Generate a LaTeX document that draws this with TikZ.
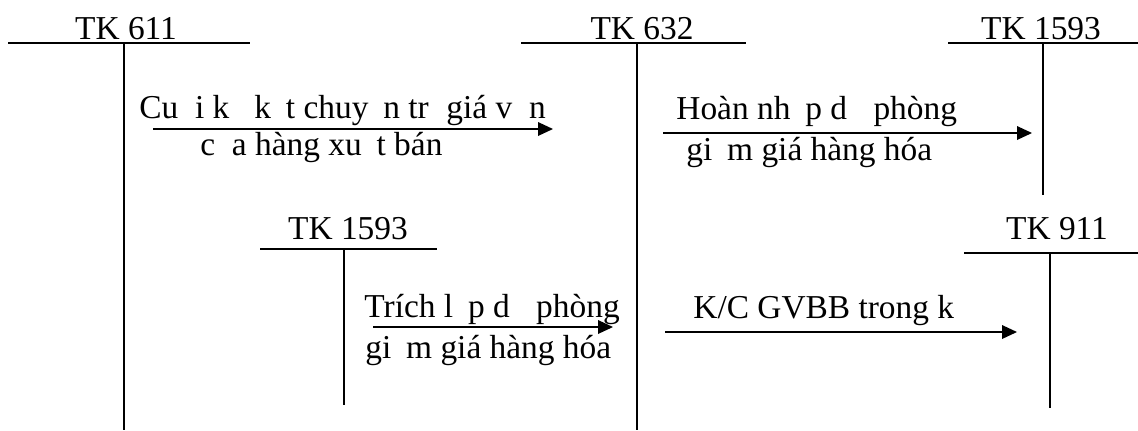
\documentclass[tikz,border=0pt]{standalone}
\usepackage{fontspec}
\setmainfont{Liberation Serif}
\usetikzlibrary{arrows.meta}
\tikzset{
	acct/.style={line width=0.75pt},
	flow/.style={line width=0.75pt, -{Triangle[length=7.5pt, width=6.8pt]}},
	acctname/.style={inner sep=0pt, anchor=base},
	entry/.style={inner sep=0pt, anchor=base west},
}
\begin{document}
\begin{tikzpicture}[x=0.5pt, y=-0.5pt, font=\fontsize{16.7}{20}\selectfont]
	\useasboundingbox (0,0) rectangle (1138,430);
	% T-accounts: node / title / title x / title y / left / stem / right / top / bottom
	\foreach \n/\t/\tx/\ty/\l/\c/\r/\y/\b in {
			k611/TK 611/126/39/8/124/250/43/430,
			k632/TK 632/642/39/521/637/746/43/430,
			k1593a/TK 1593/1041/39/948/1043/1138/43/195,
			k1593b/TK 1593/348/239/260/344/437/249/405,
			k911/TK 911/1057/239/964/1050/1138/253/408}
	{
		\node[acctname] (\n) at (\tx, \ty) {\t};
		\draw[acct] (\l, \y) -- (\r, \y);
		\draw[acct] (\c, \y) -- (\c, \b);
	}
	% flows between accounts
	\coordinate (f1s) at (153, 129);
	\coordinate (f1e) at (553, 129);
	\coordinate (f2s) at (663, 133);
	\coordinate (f2e) at (1032, 133);
	\coordinate (f3s) at (373, 327);
	\coordinate (f3e) at (613, 327);
	\coordinate (f4s) at (665, 332);
	\coordinate (f4e) at (1017, 332);
	\draw[flow] (f1s) -- (f1e);
	\draw[flow] (f2s) -- (f2e);
	\draw[flow] (f3s) -- (f3e);
	\draw[flow] (f4s) -- (f4e);
	% entry texts
	\node[entry] (t1a) at (139, 118) {Cu\hphantom{ố}i k\hphantom{ỳ} k\hphantom{ế}t chuy\hphantom{ể}n tr\hphantom{ị} giá v\hphantom{ố}n};
	\node[entry] (t1b) at (200, 155) {c\hphantom{ủ}a hàng xu\hphantom{ấ}t bán};
	\node[entry] (t2a) at (676, 119) {Hoàn nh\hphantom{ậ}p d\hphantom{ự} phòng};
	\node[entry] (t2b) at (686, 160) {gi\hphantom{ả}m giá hàng hóa};
	\node[entry] (t3a) at (364, 317) {Trích l\hphantom{ậ}p d\hphantom{ự} phòng};
	\node[entry] (t3b) at (365, 358) {gi\hphantom{ả}m giá hàng hóa};
	\node[entry] (t4a) at (693, 318) {K/C GVBB trong k\hphantom{ỳ}};
\end{tikzpicture}
\end{document}
